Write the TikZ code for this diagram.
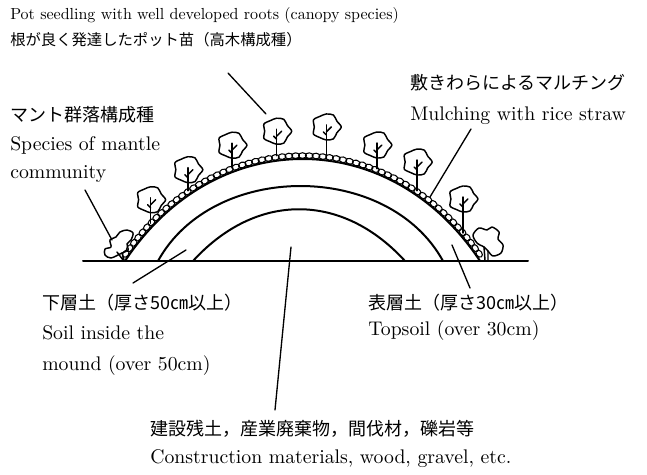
\documentclass[tikz,border=0pt]{standalone}
\usepackage{fontspec}
\setmainfont{lmroman10-regular.otf}
\newfontfamily\jp{Noto Sans CJK JP}
\usetikzlibrary{decorations.markings}

\begin{document}
\begin{tikzpicture}[x=0.75pt, y=-0.75pt, line join=round, line cap=round,
	font=\fontsize{14.8}{17}\selectfont,
	every node/.style={inner sep=0pt, anchor=base west},
	jtext/.style={font=\fontsize{13.5}{16}\selectfont\jp, anchor=west},
	layer/.style={line width=1.5pt},
	lead/.style={line width=1pt},
	plant/.style={line width=1.1pt},
	mulch/.style={postaction={decorate, decoration={markings,
		mark=between positions 0.015 and 0.985 step 5pt with
		{\draw[line width=0.8pt] (0pt,2.6pt) ellipse [x radius=2.9pt, y radius=2.1pt];}}}}]
	\useasboundingbox (0,0) rectangle (647,475);
	\def\xl{125} \def\xr{480} \def\yg{261} % foot of the mound, ground level
	% seedling: foot on the mound, height of the crown centre
	\def\seedling#1#2{%
		\draw[plant] (#1) ++(0,-5) -- ++(0,{-(#2)+3});
		\draw[plant] (#1) ++(0,{-(#2)+5}) -- ++(5,-5);
		\draw[plant] (#1) ++(0,{-(#2)+8}) -- ++(-3,-3);
		\draw[plant, shift={(#1)}] plot[smooth cycle, domain=0:330, samples=12]
			({(13.5+1.5*cos(5*\x))*cos(\x)}, {-(#2)+(13+1.5*cos(5*\x))*sin(\x)});
	}
	% ground and the three soil layers
	\draw[layer] (83,\yg) -- (528,\yg);
	\draw[layer, mulch] (\xl,\yg) .. controls (215,125) and (390,125) .. (\xr,\yg)
		coordinate[pos=0.088] (f1) coordinate[pos=0.2] (f2) coordinate[pos=0.32] (f3)
		coordinate[pos=0.435] (f4) coordinate[pos=0.56] (f5) coordinate[pos=0.69] (f6)
		coordinate[pos=0.8] (f7) coordinate[pos=0.94] (f8);
	\draw[layer] (158,\yg) .. controls (213,161) and (388,161) .. (443,\yg);
	\draw[layer] (193,\yg) .. controls (256,192) and (342,192) .. (405,\yg);
	% canopy seedlings
	\seedling{f1}{28.5}
	\seedling{f2}{26}
	\seedling{f3}{27}
	\seedling{f4}{29.5}
	\seedling{f5}{33.5}
	\seedling{f6}{28.7}
	\seedling{f7}{33.7}
	\seedling{f8}{39}
	% mantle shrubs at both feet
	\draw[plant] plot[smooth cycle] coordinates {(111,258) (105,255) (105,249) (111,247)
		(110,240) (116,237) (120,232) (127,230) (133,233) (131,240) (127,244) (128,250) (122,253)};
	\draw[plant] (122,253) -- (124,260) (117,252) -- (123,260);
	\draw[plant] plot[smooth cycle] coordinates {(477,243) (473,235) (479,228) (487,230)
		(492,227) (499,232) (498,239) (503,245) (501,253) (493,256) (488,251) (484,247)};
	\draw[plant] (484,247) -- (485,260) (488,251) -- (488,260);
	% labels
	\node[font=\fontsize{12}{14}\selectfont] (canopyE) at (10,19) {Pot seedling with well developed roots (canopy species)};
	\node[jtext, font=\fontsize{11.5}{14}\selectfont\jp] (canopyJ) at (10,40) {根が良く発達したポット苗（高木構成種）};
	\node[jtext] (mulchJ) at (410,83) {敷きわらによるマルチング};
	\node (mulchE) at (410,120) {Mulching with rice straw};
	\node[jtext] (mantleJ) at (10,114.5) {マント群落構成種};
	\node (mantleE) at (10,150) {Species of mantle};
	\node (mantleE2) at (10,178) {community};
	\node[jtext] (subJ) at (42,302.5) {下層土（厚さ50㎝以上）};
	\node (subE) at (42,339) {Soil inside the};
	\node (subE2) at (42,370) {mound (over 50cm)};
	\node[jtext] (topJ) at (368,302.5) {表層土（厚さ30㎝以上）};
	\node (topE) at (368,335) {Topsoil (over 30cm)};
	\node[jtext] (fillJ) at (150,429) {建設残土，産業廃棄物，間伐材，礫岩等};
	\node (fillE) at (150,463) {Construction materials, wood, gravel, etc.};
	% leader lines
	\coordinate (canopyA) at (228,73);  \coordinate (canopyB) at (266,114);
	\coordinate (mulchA) at (471,129);  \coordinate (mulchB) at (430,197);
	\coordinate (mantleA) at (85,190);  \coordinate (mantleB) at (112,240);
	\coordinate (subA) at (186,250);    \coordinate (subB) at (133,283);
	\coordinate (topA) at (452,245);    \coordinate (topB) at (470,288);
	\coordinate (fillA) at (291,247);   \coordinate (fillB) at (275,410);
	\draw[lead] (canopyA) -- (canopyB);
	\draw[lead] (mulchA) -- (mulchB);
	\draw[lead] (mantleA) -- (mantleB);
	\draw[lead] (subA) -- (subB);
	\draw[lead] (topA) -- (topB);
	\draw[lead] (fillA) -- (fillB);
\end{tikzpicture}
\end{document}
